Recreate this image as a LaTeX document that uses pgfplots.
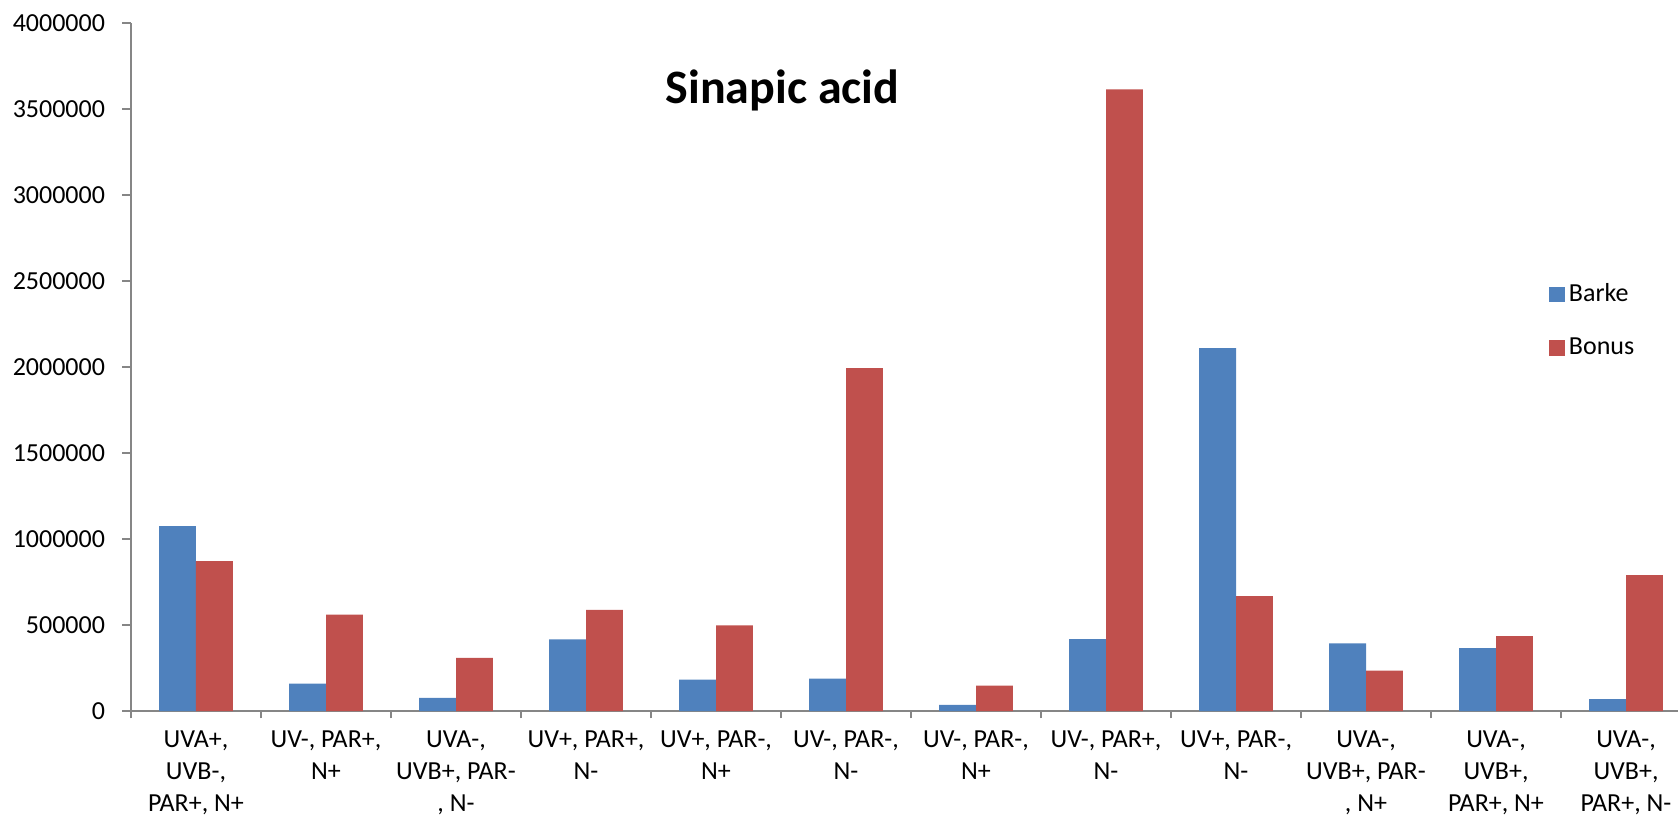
\documentclass[border=0pt]{standalone}
\usepackage{fontspec}
\setmainfont{Carlito}
\usepackage{pgfplots}
\pgfplotsset{compat=1.18}
\definecolor{barke}{HTML}{4F81BD}
\definecolor{bonus}{HTML}{C0504D}
\definecolor{axisgray}{HTML}{868686}
\pgfplotsset{
  sqlegend/.style={legend image code/.code={\fill[##1] (0bp,-3.9bp) rectangle (7.8bp,3.9bp);}},
}
\begin{document}
\begin{tikzpicture}
\useasboundingbox (-65.5bp,-55.5bp) rectangle (773.5bp,355.5bp);
\begin{axis}[
  at={(0,0)}, anchor=south west,
  scale only axis, width=780bp, height=343.85bp,
  xmin=-0.5, xmax=11.5, ymin=0, ymax=4000000,
  axis x line=bottom, axis y line=left,
  axis line style={-, axisgray, line width=0.9bp},
  every tick/.style={axisgray, line width=0.9bp},
  tick align=outside,
  major tick length=4.3bp, minor tick length=3.7bp,
  xtick={0,1,2,3,4,5,6,7,8,9,10,11},
  major x tick style={draw=none},
  minor xtick={-0.5,0.5,1.5,2.5,3.5,4.5,5.5,6.5,7.5,8.5,9.5,10.5,11.5},
  xticklabels={
    {UVA+,\\UVB-,\\PAR+, N+},
    {UV-, PAR+,\\N+},
    {UVA-,\\UVB+, PAR-\\, N-},
    {UV+, PAR+,\\N-},
    {UV+, PAR-,\\N+},
    {UV-, PAR-,\\N-},
    {UV-, PAR-,\\N+},
    {UV-, PAR+,\\N-},
    {UV+, PAR-,\\N-},
    {UVA-,\\UVB+, PAR-\\, N+},
    {UVA-,\\UVB+,\\PAR+, N+},
    {UVA-,\\UVB+,\\PAR+, N-}},
  xticklabel style={align=center, anchor=north, inner sep=0pt, yshift=-5.5bp,
    font=\fontsize{13bp}{16bp}\selectfont, text=black},
  ytick={0,500000,1000000,1500000,2000000,2500000,3000000,3500000,4000000},
  scaled y ticks=false,
  yticklabel style={anchor=east, inner sep=0pt, xshift=-8.5bp,
    font=\fontsize{13bp}{15bp}\selectfont, text=black,
    /pgf/number format/.cd, fixed, precision=0, 1000 sep={}, assume math mode=true},
  legend style={at={(0.9092,0.621)}, anchor=north west, draw=none, fill=none,
    inner sep=0pt, outer sep=0pt, row sep=16.5bp, column sep=2bp,
    font=\fontsize{13bp}{15bp}\selectfont, nodes={inner sep=0pt}},
  legend cell align=left,
  clip=false,
]
\addplot[ybar, bar width=18.4bp, bar shift=-9.2bp, fill=barke, draw=none, sqlegend]
  coordinates {(0,1075000) (1,159000) (2,77000) (3,416000) (4,182000) (5,188000)
               (6,36000) (7,418000) (8,2110000) (9,393000) (10,365000) (11,69000)};
\addlegendentry{Barke}
\addplot[ybar, bar width=18.4bp, bar shift=9.2bp, fill=bonus, draw=none, sqlegend]
  coordinates {(0,872000) (1,560000) (2,309000) (3,588000) (4,498000) (5,1995000)
               (6,147000) (7,3615000) (8,668000) (9,235000) (10,436000) (11,791000)};
\addlegendentry{Bonus}
\node[font=\fontsize{24bp}{28bp}\selectfont\bfseries, anchor=base]
  at (rel axis cs:0.4176,0.8837) {Sinapic acid};
\end{axis}
\end{tikzpicture}
\end{document}
